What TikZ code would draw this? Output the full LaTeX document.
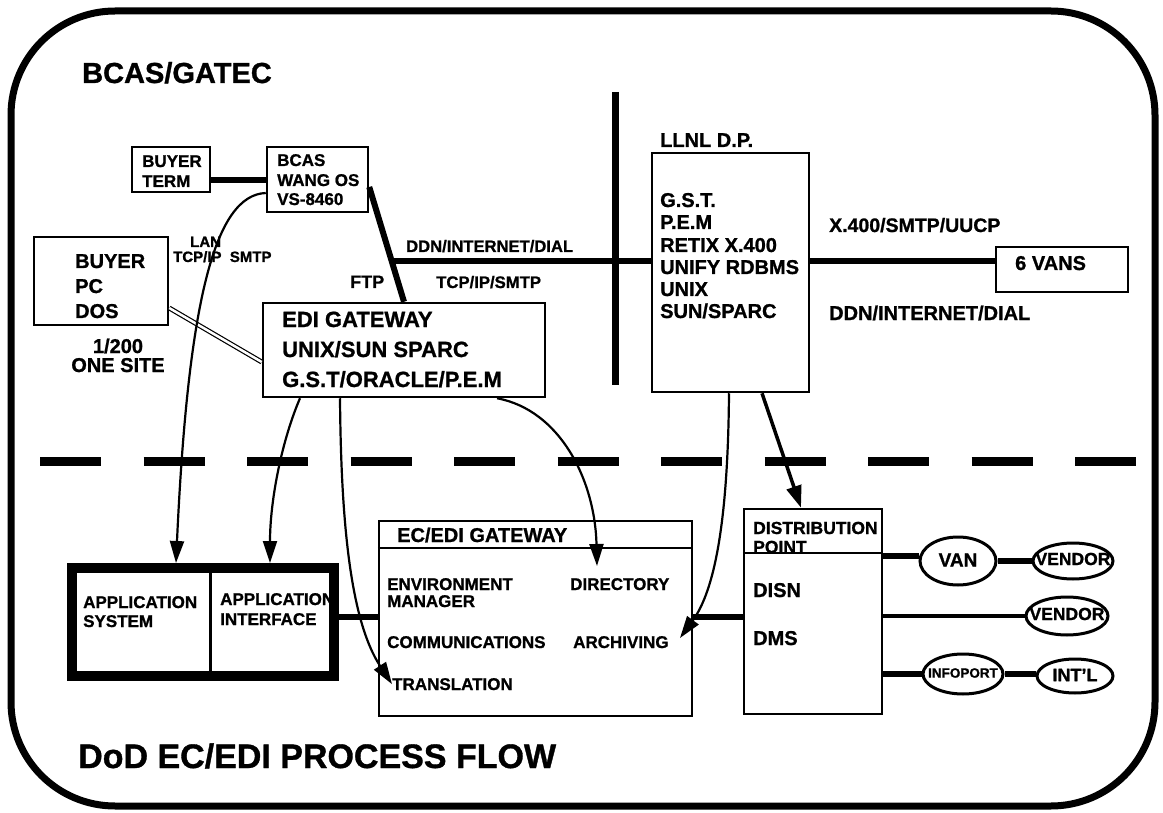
\documentclass[tikz,border=0pt]{standalone}
\usepackage{fontspec}
\setmainfont{Liberation Sans}[BoldFeatures={FakeBold=1}]
\usetikzlibrary{arrows.meta,shapes.geometric,calc}
\newcommand\fsz[1]{\fontsize{#1}{#1}\selectfont\bfseries}
\begin{document}
\begin{tikzpicture}[x=1pt,y=-1pt,
  txt/.style={inner sep=0pt,anchor=base west,font=\fsz{#1}},
  lbl/.style={inner sep=0pt,anchor=center,font=\fsz{#1}},
  box/.style={draw,line width=2.5pt,inner sep=0pt},
  ell/.style={draw,ellipse,line width=3pt,inner sep=0pt},
  thk/.style={line width=6pt},
  mid/.style={line width=4pt},
  dbl/.style={double,double distance=2.5pt,line width=1.2pt},
  arr/.style={line width=2.2pt,-{Triangle[length=22pt,width=14pt]}},
  arrk/.style={line width=3.5pt,-{Triangle[length=22pt,width=15pt]}}]
\useasboundingbox (0,0) rectangle (1163,813);
% frame
\node[draw,line width=7pt,rounded corners=104pt,minimum width=1144pt,minimum height=795pt,inner sep=0pt] (frame) at (583,408.5) {};
% dashed separator
\coordinate (dl) at (40,461);
\coordinate (dr) at (1136,461);
\draw[line width=9pt,dash pattern=on 61pt off 42.5pt] (dl) -- (dr);
% titles
\node[txt=29] (title) at (82,83) {BCAS/GATEC};
\node[txt=34] (foot) at (78,768) {DoD EC/EDI PROCESS FLOW};
% upper boxes
\node[box,minimum width=78pt,minimum height=45pt] (bt) at (171,169.5) {};
\node[txt=17] (bt1) at (142,167) {BUYER};
\node[txt=17] (bt2) at (142,187) {TERM};
\node[box,minimum width=101pt,minimum height=65pt] (bcas) at (317.5,179.5) {};
\node[txt=17] (bc1) at (277,166) {BCAS};
\node[txt=17] (bc2) at (277,186) {WANG OS};
\node[txt=17] (bc3) at (277,205) {VS-8460};
\node[box,minimum width=134pt,minimum height=88pt] (bpc) at (101,281) {};
\node[txt=20] (pc1) at (75,268) {BUYER};
\node[txt=20] (pc2) at (75,293) {PC};
\node[txt=20] (pc3) at (75,318) {DOS};
\node[txt=20,anchor=base] (site1) at (118,353) {1/200};
\node[txt=20,anchor=base] (site2) at (118,372) {ONE SITE};
\node[txt=15] (lan) at (190,247) {LAN};
\node[txt=15] (tcp) at (173,262) {TCP/IP\ \ SMTP};
\node[txt=16.6] (ddn1) at (406,252) {DDN/INTERNET/DIAL};
\node[txt=16.7] (tcp2) at (436,288) {TCP/IP/SMTP};
\node[txt=18] (ftp) at (350,288) {FTP};
\node[box,minimum width=282pt,minimum height=94pt] (edi) at (404,350) {};
\node[txt=22] (e1) at (282,327) {EDI GATEWAY};
\node[txt=22] (e2) at (282,357) {UNIX/SUN SPARC};
\node[txt=22] (e3) at (282,387) {G.S.T/ORACLE/P.E.M};
% LLNL
\node[txt=20] (llnlt) at (660,147) {LLNL D.P.};
\node[box,minimum width=157pt,minimum height=239pt] (llnl) at (730.5,272.5) {};
\node[txt=20] (l1) at (660,207) {G.S.T.};
\node[txt=20] (l2) at (660,229) {P.E.M};
\node[txt=20] (l3) at (660,252) {RETIX X.400};
\node[txt=20] (l4) at (660,274) {UNIFY RDBMS};
\node[txt=20] (l5) at (660,296) {UNIX};
\node[txt=20] (l6) at (660,318) {SUN/SPARC};
\node[txt=19.5] (x400) at (829,232) {X.400/SMTP/UUCP};
\node[txt=20] (ddn2) at (829,320) {DDN/INTERNET/DIAL};
\node[box,minimum width=132pt,minimum height=45pt] (vans) at (1062,269.5) {};
\node[txt=20] (vanst) at (1015,270) {6 VANS};
% lower part
\node[txt=17] (as1) at (83,608) {APPLICATION};
\node[txt=17] (as2) at (83,627) {SYSTEM};
\node[txt=17] (ai1) at (220,605) {APPLICATION};
\node[txt=17] (ai2) at (220,625) {INTERFACE};
\node[draw,line width=10pt,inner sep=0pt,minimum width=262pt,minimum height=108pt] (app) at (203,622) {};
\coordinate (divx) at (210,0);
\draw[line width=3pt] (app.north -| divx) -- (app.south -| divx);
\node[box,minimum width=313pt,minimum height=195pt] (ecedi) at (535.5,618.5) {};
\coordinate (hdr1) at (0,548);
\draw[line width=2.5pt] (ecedi.west |- hdr1) -- (ecedi.east |- hdr1);
\node[txt=20] (ech) at (397,542) {EC/EDI GATEWAY};
\node[txt=17] (env) at (387,590) {ENVIRONMENT};
\node[txt=17] (mgr) at (387,607) {MANAGER};
\node[txt=17] (dir) at (570,590) {DIRECTORY};
\node[txt=17] (comm) at (387,648) {COMMUNICATIONS};
\node[txt=17] (arch) at (573,648) {ARCHIVING};
\node[txt=17] (trans) at (392,690) {TRANSLATION};
\node[box,minimum width=138pt,minimum height=205pt] (dist) at (813,611.5) {};
\node[txt=17.5] (d1) at (753,534) {DISTRIBUTION};
\node[txt=17.5] (d2) at (753,553) {POINT};
\coordinate (hdr2) at (0,553);
\draw[line width=2.5pt] (dist.west |- hdr2) -- (dist.east |- hdr2);
\node[txt=20] (disn) at (753,597) {DISN};
\node[txt=20] (dms) at (753,645) {DMS};
% ellipses
\node[ell,minimum width=76pt,minimum height=48pt] (van) at (958,561) {};
\node[lbl=19] (vanl) at (958,560) {VAN};
\node[ell,minimum width=80pt,minimum height=36pt] (v1) at (1073,561) {};
\node[lbl=17.5] (v1l) at (1073,559) {VENDOR};
\node[ell,minimum width=82pt,minimum height=38pt] (v2) at (1067,616) {};
\node[lbl=17.5] (v2l) at (1067,614) {VENDOR};
\node[ell,minimum width=80pt,minimum height=40pt] (info) at (963,674) {};
\node[lbl=13.5] (infol) at (963,673) {INFOPORT};
\node[ell,minimum width=76pt,minimum height=34pt] (intl) at (1075,676) {};
\node[lbl=18] (intll) at (1075,675) {INT'L};
% connectors upper
\coordinate (y180) at (0,180);
\coordinate (y187) at (0,187);
\coordinate (y308) at (0,308);
\coordinate (y362) at (0,362);
\coordinate (y193) at (0,193);
\draw[thk] (bt.east |- y180) -- (bcas.west |- y180);
\draw[thk] (bcas.east |- y187) -- (edi.north) coordinate[pos=0.647] (ddn0);
\draw[thk] (ddn0) -- (llnl.west |- ddn0);
\draw[thk] (llnl.east |- ddn0) -- (vans.west |- ddn0);
\coordinate (vt) at (615,92);
\coordinate (vb) at (615,385);
\draw[line width=7pt] (vt) -- (vb);
\draw[dbl] (bpc.east |- y308) -- (edi.west |- y362);
% connectors lower
\coordinate (y617) at (0,617);
\draw[thk] (app.east |- y617) -- (ecedi.west |- y617);
\draw[thk] (ecedi.east |- y617) -- (dist.west |- y617);
\draw[thk] (dist.east |- van.172) -- (van.172);
\draw[thk] (van.east) -- (v1.west);
\draw[mid] (dist.east |- v2.west) -- (v2.west);
\draw[thk] (dist.east |- info.west) -- (info.west);
\draw[thk] (info.east) -- (intl.west |- info.east);
% arrows
\coordinate (apptop) at (0,563);
\coordinate (xa) at (176,0);
\coordinate (xb) at (270,0);
\coordinate (x300) at (300,0);
\coordinate (x340) at (340,0);
\coordinate (x497) at (497,0);
\coordinate (x729) at (729,0);
\coordinate (x762) at (762,0);
\coordinate (x801) at (801,0);
\coordinate (dirtip) at (597,566);
\coordinate (archtip) at (680,638);
\draw[arr] (bcas.west |- y193) .. controls (215,195) and (188,300) .. (apptop -| xa);
\draw[arr] (edi.south -| x300) .. controls (282,440) and (270,500) .. (apptop -| xb);
\draw[arr] (edi.south -| x340) .. controls (341,520) and (350,620) .. (trans.west);
\draw[arr] (edi.south -| x497) .. controls (560,410) and (595,480) .. (dirtip);
\draw[arr] (llnl.south -| x729) .. controls (728,520) and (715,590) .. (archtip);
\draw[arrk] (llnl.south -| x762) -- (dist.north -| x801);
\end{tikzpicture}
\end{document}
